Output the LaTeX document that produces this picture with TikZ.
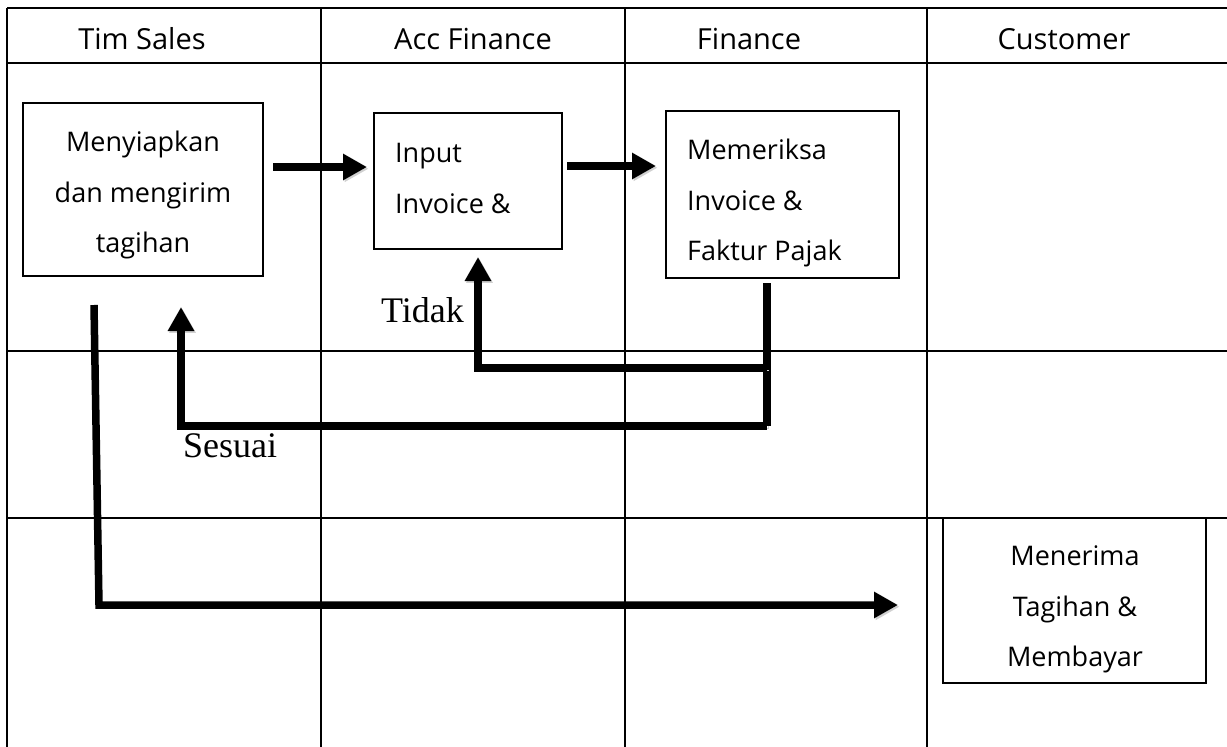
\documentclass[tikz,border=0pt]{standalone}
\usepackage{fontspec}
\setmainfont{Open Sans}
\newfontfamily\serifx{Liberation Serif}
\usetikzlibrary{arrows.meta}
\begin{document}
\begin{tikzpicture}[x=1pt,y=-1pt,
  grid/.style={line width=2.2pt,black},
  box/.style={draw,line width=1.3pt,fill=white,inner sep=0pt,outer sep=0pt},
  hdr/.style={anchor=base,inner sep=0pt,font=\fontsize{29}{33}\selectfont},
  txt/.style={inner sep=0pt,font=\fontsize{27}{50.5}\selectfont},
  lbl/.style={anchor=base west,inner sep=0pt,font=\serifx\fontsize{36}{40}\selectfont},
  shade/.style={preaction={draw=black!18,transform canvas={shift={(1.5pt,-1.8pt)}}}},
  arr/.style={line width=7.5pt,shade,-{Triangle[length=24pt,width=25pt]}},
  flow/.style={line width=7.5pt,shade}]
\useasboundingbox (0,0) rectangle (1227,747);
% grid
\draw[grid] (7,8) -- (1227,8);
\draw[grid] (7,63) -- (1227,63);
\draw[grid] (7,351) -- (1227,351);
\draw[grid] (7,518) -- (1227,518);
\draw[grid] (7,8) -- (7,747);
\draw[grid] (321,8) -- (321,747);
\draw[grid] (625,8) -- (625,747);
\draw[grid] (927,8) -- (927,747);
% headers
\node[hdr] (h1) at (142,49) {Tim Sales};
\node[hdr] (h2) at (473,49) {Acc Finance};
\node[hdr] (h3) at (749,49) {Finance};
\node[hdr] (h4) at (1064,49) {Customer};
% boxes
\node[box,minimum width=240pt,minimum height=173pt] (b1) at (143,189.5) {};
\node[box,minimum width=188pt,minimum height=136pt] (b2) at (468,181) {};
\node[box,minimum width=233pt,minimum height=167pt] (b3) at (782.5,194.5) {};
\node[box,minimum width=263pt,minimum height=165pt] (b4) at (1074.5,600.5) {};
\node[txt,align=center] (t1) at (143,192) {\strut Menyiapkan\\dan mengirim\\tagihan\strut};
\node[txt,align=left,anchor=west] (t2) at (395,178) {\strut Input\\Invoice \&\strut};
\node[txt,align=left,anchor=west] (t3) at (687,200) {\strut Memeriksa\\Invoice \&\\Faktur Pajak\strut};
\node[txt,align=center] (t4) at (1075,606) {\strut Menerima\\Tagihan \&\\Membayar\strut};
% connectors
\coordinate (a1s) at (273,167);
\coordinate (a2s) at (567,166);
\draw[arr] (a1s) -- ([xshift=-7pt]b2.west|-a1s);
\draw[arr] (a2s) -- ([xshift=-10pt]b3.west|-a2s);
\coordinate (fs) at (767,283);
\coordinate (j1) at (767,368);
\coordinate (j2) at (767,426);
\coordinate (ttip) at (478,257);
\coordinate (stip) at (181,307);
\draw[flow] (fs) -- (j2);
\draw[arr] (j1) -| (ttip);
\draw[arr] (j2) -| (stip);
\coordinate (ls) at (94,305);
\coordinate (lc) at (99,605);
\coordinate (ltip) at (898,605);
\draw[arr] (ls) -- (lc) -- (ltip);
% labels
\node[lbl] (tidak) at (381,322) {Tidak};
\node[lbl] (sesuai) at (183,457) {Sesuai};
\end{tikzpicture}
\end{document}
